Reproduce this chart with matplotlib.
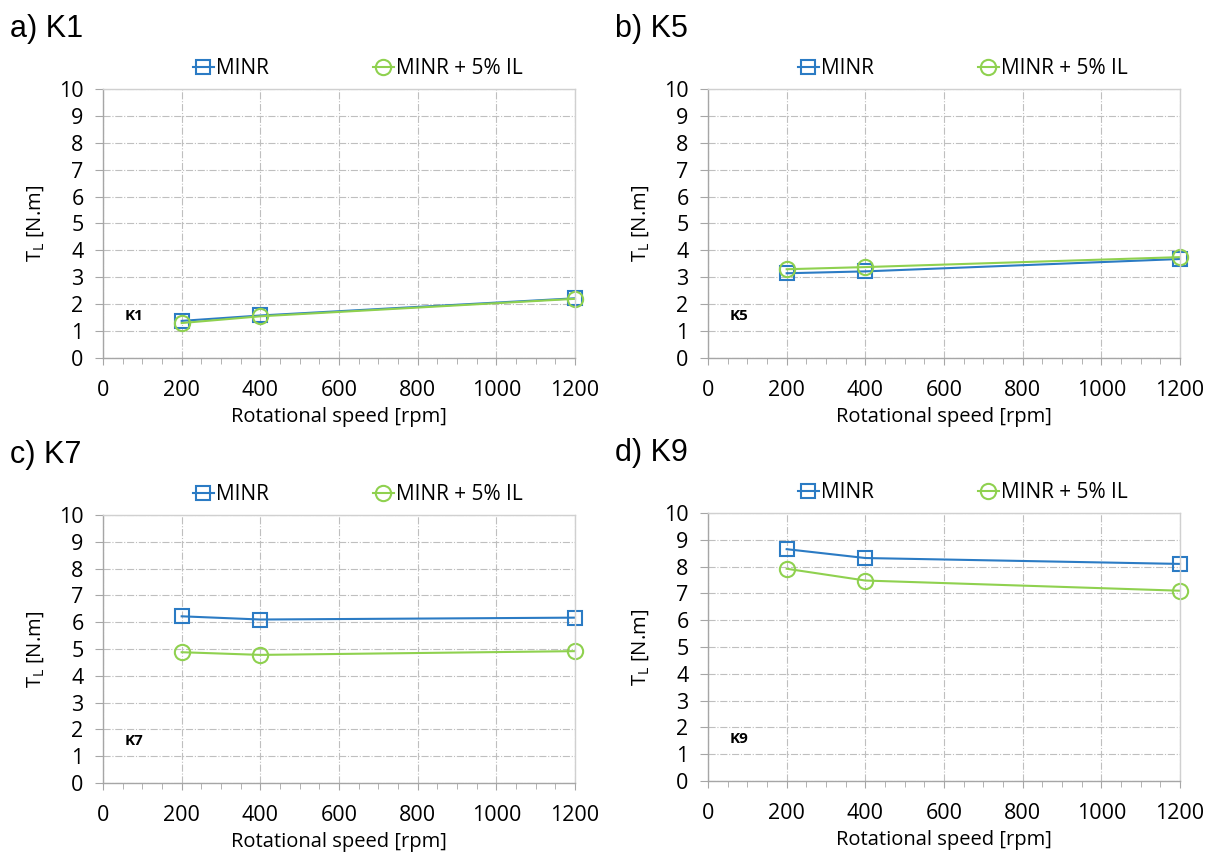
import numpy as np
import matplotlib
matplotlib.use('Agg')
import matplotlib.pyplot as plt
from matplotlib.ticker import MultipleLocator

# Data
speed = [200, 400, 1200]
panels = ['K1', 'K5', 'K7', 'K9']
letters = ['a)', 'b)', 'c)', 'd)']
minr = {
    'K1': [1.38, 1.58, 2.22],
    'K5': [3.15, 3.22, 3.68],
    'K7': [6.22, 6.10, 6.17],
    'K9': [8.65, 8.32, 8.10],
}
minr_il = {
    'K1': [1.30, 1.55, 2.20],
    'K5': [3.30, 3.38, 3.75],
    'K7': [4.88, 4.78, 4.92],
    'K9': [7.92, 7.48, 7.10],
}

BLUE = '#2b7bc4'
GREEN = '#8fd14f'
GRID = '#bfbfbf'

plt.rcParams['font.family'] = ['Open Sans', 'DejaVu Sans']

W, H = 1206, 852
fig = plt.figure(figsize=(W / 100, H / 100), dpi=100)

# axes boxes in pixels: left, right, top, bottom
boxes = [
    (103, 575, 89, 358),
    (708, 1180, 89, 358),
    (103, 575, 515, 783),
    (708, 1180, 513, 781),
]

for i, key in enumerate(panels):
    l, r, t, b = boxes[i]
    ax = fig.add_axes([l / W, 1 - b / H, (r - l) / W, (b - t) / H])
    ax.plot(speed, minr[key], '-s', color=BLUE, lw=1.5, ms=10,
            mfc='none', mec=BLUE, mew=1.5, label='MINR', clip_on=False)
    ax.plot(speed, minr_il[key], '-o', color=GREEN, lw=1.5, ms=11,
            mfc='none', mec=GREEN, mew=1.5, label='MINR + 5% IL',
            clip_on=False)

    ax.set_xlim(0, 1200)
    ax.set_ylim(0, 10)
    ax.xaxis.set_major_locator(MultipleLocator(200))
    ax.xaxis.set_minor_locator(MultipleLocator(50))
    ax.yaxis.set_major_locator(MultipleLocator(1))
    ax.grid(True, which='major', color=GRID, ls='-.', lw=0.8)
    for s in ax.spines.values():
        s.set_color('#d0d0d0')
        s.set_linewidth(1.0)
    ax.spines['bottom'].set_color('#a6a6a6')
    ax.spines['left'].set_color('#a6a6a6')
    ax.tick_params(axis='x', which='major', length=5, color='#a6a6a6',
                   labelsize=15.5, pad=11)
    ax.tick_params(axis='x', which='minor', length=4.5, color='#a6a6a6')
    ax.tick_params(axis='y', which='major', length=6, color='#a6a6a6',
                   labelsize=15.5, pad=8)

    ax.set_xlabel('Rotational speed [rpm]', fontsize=14.5, labelpad=4)
    ax.set_ylabel(r'T$_\mathregular{L}$ [N.m]', fontsize=14.5, labelpad=9)

    ax.text(78, 1.55, key, fontsize=11, fontweight='bold', ha='center',
            va='center')

    ax.legend(loc='center', bbox_to_anchor=(0.54, 1 + 20 / (b - t)),
              ncol=2, frameon=False, fontsize=15, handlelength=1.0,
              handletextpad=0.1, columnspacing=5.0, borderpad=0.0)

    fig.text((l - 93) / W, 1 - (t - 52) / H, f'{letters[i]} {key}',
             fontsize=22, family='Liberation Sans', va='baseline')

plt.savefig('out.png', dpi=100)
